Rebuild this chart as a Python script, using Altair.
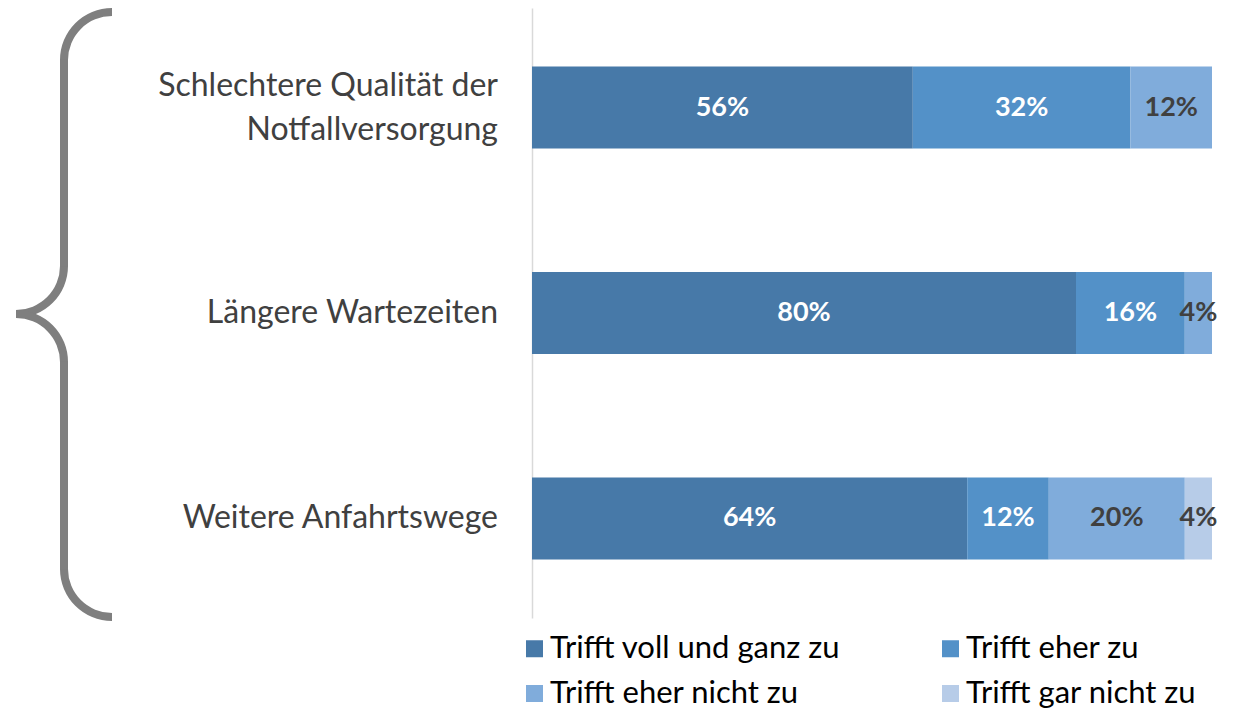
import altair as alt
import pandas as pd
import math

categories = ["Schlechtere Qualität der|Notfallversorgung", "Längere Wartezeiten", "Weitere Anfahrtswege"]
levels = ["Trifft voll und ganz zu", "Trifft eher zu", "Trifft eher nicht zu", "Trifft gar nicht zu"]
colors = ["#4779a8", "#5391c8", "#80acdb", "#b7cce8"]
text_colors = ["#ffffff", "#ffffff", "#404040", "#404040"]
values_voll = [56, 80, 64]
values_eher = [32, 16, 12]
values_eher_nicht = [12, 4, 20]
values_gar_nicht = [0, 0, 4]

series = [values_voll, values_eher, values_eher_nicht, values_gar_nicht]
rows = []
for ci, cat in enumerate(categories):
    for li, lev in enumerate(levels):
        rows.append({"category": cat, "level": lev, "order": li, "value": series[li][ci],
                     "tcolor": text_colors[li]})
df = pd.DataFrame(rows)
cat_df = pd.DataFrame({"category": categories})

FONT = "Lato"
W, H = 680, 610
LINE_H = 44

base = alt.Chart(df)
ysc = alt.Scale(domain=categories, paddingInner=0.601, paddingOuter=0.285)
xsc = alt.Scale(domain=[0, 100], nice=False)

bars = base.mark_bar(stroke=None).encode(
    y=alt.Y("category:N", sort=categories, scale=ysc,
            axis=alt.Axis(title=None, ticks=False, labels=False, domainColor="#d9d9d9",
                          domainWidth=1.5)),
    x=alt.X("value:Q", stack="zero", scale=xsc, axis=None),
    color=alt.Color("level:N", scale=alt.Scale(domain=levels, range=colors),
                    legend=alt.Legend(title=None, orient="none", legendX=-13, legendY=625,
                                      direction="horizontal", columns=2, columnPadding=94,
                                      rowPadding=13,
                                      symbolType="square", symbolSize=289, symbolStrokeWidth=0,
                                      labelFontSize=31, labelFont=FONT, labelColor="#000000",
                                      labelOffset=0, padding=0, labelLimit=600)),
    order=alt.Order("order:Q"),
)

labels = base.transform_filter("datum.value > 0").transform_stack(
    stack="value", groupby=["category"], sort=[alt.SortField("order")], as_=["x0", "x1"]
).transform_calculate(
    mid="(datum.x0 + datum.x1) / 2", lbl="datum.value + '%'"
).mark_text(font=FONT, fontSize=27, fontWeight="bold").encode(
    y=alt.Y("category:N", sort=categories, scale=ysc),
    x=alt.X("mid:Q", scale=xsc),
    text="lbl:N",
    color=alt.Color("tcolor:N", scale=None),
)

cat_base = alt.Chart(cat_df).transform_calculate(
    lines="split(datum.category, '|')",
    n="length(split(datum.category, '|'))",
)
cat_single = cat_base.transform_filter("datum.n == 1").mark_text(
    font=FONT, fontSize=32, align="right", baseline="middle", color="#404040",
    lineHeight=LINE_H).encode(
    y=alt.Y("category:N", sort=categories, scale=ysc),
    x=alt.value(-34),
    text="lines:N",
)
cat_double = cat_base.transform_filter("datum.n == 2").mark_text(
    font=FONT, fontSize=32, align="right", baseline="middle", color="#404040",
    lineHeight=LINE_H, dy=-LINE_H / 2).encode(
    y=alt.Y("category:N", sort=categories, scale=ysc),
    x=alt.value(-34),
    text="lines:N",
)

# curly brace decoration (left side)
deco = alt.Chart(alt.Data(values=[{}]))
GRAY = "#7f7f7f"
R = 48
r_out, r_in = R + 4, R - 4
LX = -468
arcs = []
for cx, cy, t0, t1 in [(LX + R, 52, 1.5 * math.pi, 2 * math.pi),
                       (LX - R, 258, 0.5 * math.pi, math.pi),
                       (LX - R, 354, 0.0, 0.5 * math.pi),
                       (LX + R, 561, math.pi, 1.5 * math.pi)]:
    arcs.append(deco.mark_arc(theta=t0, theta2=t1, radius=r_out, radius2=r_in, color=GRAY).encode(
        x=alt.value(cx), y=alt.value(cy)))
lines = []
for y0, y1 in [(51.5, 258.5), (353.5, 561.5)]:
    lines.append(deco.mark_rule(color=GRAY, strokeWidth=8).encode(
        x=alt.value(LX), y=alt.value(y0), y2=alt.value(y1)))

chart = alt.layer(bars, labels, cat_single, cat_double, *arcs, *lines).properties(
    width=W, height=H,
    autosize=alt.AutoSizeParams(type="none"),
    padding={"left": 524, "top": 0, "right": 14, "bottom": 92},
).configure(background="white").configure_view(stroke=None, strokeWidth=0)

chart.save("out.html", embed_options={"renderer": "svg", "actions": False})
